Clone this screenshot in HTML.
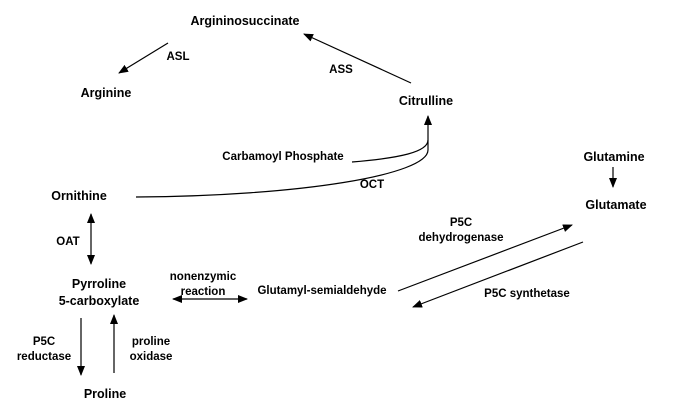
<!DOCTYPE html>
<html><head><meta charset="utf-8"><style>
html,body{margin:0;padding:0;background:#fff;}
svg{display:block;}
text{font-family:"Liberation Sans",Arial,sans-serif;font-weight:bold;fill:#000;}
</style></head><body>
<svg width="675" height="414" viewBox="0 0 675 414" xmlns="http://www.w3.org/2000/svg">
<defs>
<marker id="a" markerWidth="10" markerHeight="8" refX="9" refY="4" orient="auto" markerUnits="userSpaceOnUse">
<path d="M0,0 L10,4 L0,8 z" fill="#000"/></marker>
<marker id="s" markerWidth="10" markerHeight="8" refX="1" refY="4" orient="auto" markerUnits="userSpaceOnUse">
<path d="M10,0 L0,4 L10,8 z" fill="#000"/></marker>
</defs>
<g stroke="#000" stroke-width="1.2" fill="none">
<line x1="168" y1="43" x2="119" y2="73" marker-end="url(#a)"/>
<line x1="411" y1="83" x2="304" y2="34" marker-end="url(#a)"/>
<path d="M352,162 C400,158 428,152 428,140"/>
<path d="M136,197 C300,196 428,175 428,150 L428,116" marker-end="url(#a)"/>
<line x1="613" y1="167" x2="613" y2="187" marker-end="url(#a)"/>
<line x1="91" y1="214" x2="91" y2="264" marker-start="url(#s)" marker-end="url(#a)"/>
<line x1="173" y1="299" x2="247" y2="299" marker-start="url(#s)" marker-end="url(#a)"/>
<line x1="398" y1="291" x2="572" y2="225" marker-end="url(#a)"/>
<line x1="583" y1="242" x2="413" y2="307" marker-end="url(#a)"/>
<line x1="81" y1="318" x2="81" y2="375" marker-end="url(#a)"/>
<line x1="114" y1="373" x2="114" y2="315" marker-end="url(#a)"/>
</g>
<g font-size="11.5">
<text x="245" y="25" text-anchor="middle" font-size="12.5">Argininosuccinate</text>
<text x="178" y="60" text-anchor="middle">ASL</text>
<text x="106" y="97" text-anchor="middle" font-size="12.5">Arginine</text>
<text x="341" y="73" text-anchor="middle">ASS</text>
<text x="426" y="105" text-anchor="middle" font-size="12.5">Citrulline</text>
<text x="283" y="160" text-anchor="middle">Carbamoyl Phosphate</text>
<text x="372" y="188" text-anchor="middle">OCT</text>
<text x="79" y="200" text-anchor="middle" font-size="12.5">Ornithine</text>
<text x="614" y="161" text-anchor="middle" font-size="12.5">Glutamine</text>
<text x="616" y="209" text-anchor="middle" font-size="12.5">Glutamate</text>
<text x="68" y="245" text-anchor="middle">OAT</text>
<text x="461" y="226" text-anchor="middle">P5C</text>
<text x="461" y="241" text-anchor="middle">dehydrogenase</text>
<text x="99" y="288" text-anchor="middle" font-size="12.5">Pyrroline</text>
<text x="99" y="305" text-anchor="middle" font-size="12.5">5-carboxylate</text>
<text x="203" y="280" text-anchor="middle">nonenzymic</text>
<text x="203" y="295" text-anchor="middle">reaction</text>
<text x="322" y="294" text-anchor="middle">Glutamyl-semialdehyde</text>
<text x="527" y="297" text-anchor="middle">P5C synthetase</text>
<text x="44" y="345" text-anchor="middle">P5C</text>
<text x="44" y="360" text-anchor="middle">reductase</text>
<text x="151" y="345" text-anchor="middle">proline</text>
<text x="151" y="360" text-anchor="middle">oxidase</text>
<text x="105" y="398" text-anchor="middle" font-size="12.5">Proline</text>
</g>
</svg>
</body></html>
